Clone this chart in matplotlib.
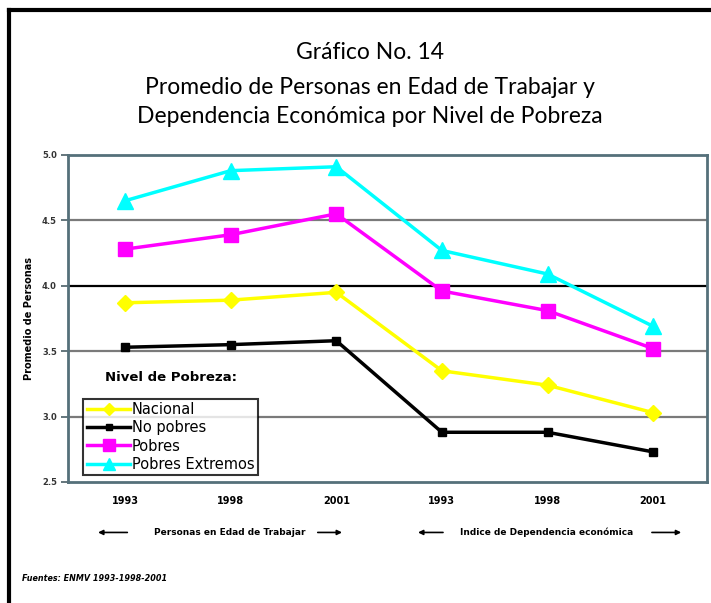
"""
Grafico No. 14: promedio de personas en edad de trabajar y dependencia
economica por nivel de pobreza (ENMV 1993-1998-2001).
"""
import matplotlib
matplotlib.use('Agg')
import matplotlib.pyplot as plt
from matplotlib.lines import Line2D
from matplotlib.patches import FancyArrowPatch

years = ['1993', '1998', '2001', '1993', '1998', '2001']
series_names = ['Nacional', 'No pobres', 'Pobres', 'Pobres Extremos']
nacional = [3.87, 3.89, 3.95, 3.35, 3.24, 3.03]
no_pobres = [3.53, 3.55, 3.58, 2.88, 2.88, 2.73]
pobres = [4.28, 4.39, 4.55, 3.96, 3.81, 3.52]
pobres_extremos = [4.65, 4.88, 4.91, 4.27, 4.09, 3.69]
yticks = [2.5, 3.0, 3.5, 4.0, 4.5, 5.0]

fig = plt.figure(figsize=(7.11, 6.03), dpi=100)
fig.patch.set_facecolor('white')

# black frame along top and left edges
fig.add_artist(Line2D([0.013, 0.013], [0.0, 0.984], transform=fig.transFigure,
                      color='black', lw=3))
fig.add_artist(Line2D([0.013, 1.0], [0.984, 0.984], transform=fig.transFigure,
                      color='black', lw=3))

title_font = 'Lato'
fig.text(0.52, 0.913, 'Gráfico No. 14', ha='center', va='center',
         fontsize=16.5, family=title_font)
fig.text(0.52, 0.855, 'Promedio de Personas en Edad de Trabajar y', ha='center',
         va='center', fontsize=16.5, family=title_font)
fig.text(0.52, 0.806, 'Dependencia Económica por Nivel de Pobreza', ha='center',
         va='center', fontsize=16.5, family=title_font)

ax = fig.add_axes([68 / 711, 0.2007, 639 / 711, 0.5423])
x = list(range(len(years)))

for yv in [3.0, 3.5, 4.5]:
    ax.axhline(yv, color='#7a7a7a', lw=1.6, zorder=1)
ax.axhline(4.0, color='black', lw=1.6, zorder=1)

ax.plot(x, nacional, color='#FFFF00', lw=2.5, marker='D', markersize=8,
        label=series_names[0], zorder=3)
ax.plot(x, no_pobres, color='black', lw=2.5, marker='s', markersize=6,
        label=series_names[1], zorder=3)
ax.plot(x, pobres, color='#FF00FF', lw=2.5, marker='s', markersize=10.5,
        label=series_names[2], zorder=3)
ax.plot(x, pobres_extremos, color='#00FFFF', lw=2.5, marker='^', markersize=11,
        label=series_names[3], zorder=3)

ax.set_xlim(-0.54, 5.51)
ax.set_ylim(2.5, 5.0)
ax.set_yticks(yticks)
ax.set_yticklabels(['%.1f' % v for v in yticks], fontsize=6, fontweight='bold',
                   color='#333333')
ax.set_xticks(x)
ax.set_xticklabels(years, fontsize=7, fontweight='bold')
ax.tick_params(axis='x', length=0, pad=10)
ax.tick_params(axis='y', length=5, width=1.2, color='#4a5f66', pad=3)
for sp in ax.spines.values():
    sp.set_color('#55707a')
    sp.set_linewidth(2)
ax.set_ylabel('Promedio de Personas', fontsize=7, fontweight='bold', labelpad=6)

leg = ax.legend(loc='lower left', bbox_to_anchor=(0.0235, 0.02), fontsize=10.5,
                frameon=True, fancybox=False, edgecolor='black',
                borderpad=0.25, labelspacing=0.22, handlelength=3.0,
                handletextpad=0.1, borderaxespad=0, markerscale=0.8)
leg.get_frame().set_linewidth(1.5)
ax.text(0.058, 0.321, 'Nivel de Pobreza:', transform=ax.transAxes, fontsize=9.5,
        fontweight='bold', ha='left', va='center')

# group captions below the year labels
row_y = 0.117
fig.text(230 / 711, row_y, 'Personas en Edad de Trabajar', ha='center',
         va='center', fontsize=6.5, fontweight='bold')
fig.text(547 / 711, row_y, 'Indice de Dependencia económica', ha='center',
         va='center', fontsize=6.5, fontweight='bold')
arrows = [(0.183, 0.134), (0.443, 0.485), (0.627, 0.584), (0.913, 0.962)]
for x0, x1 in arrows:
    fig.add_artist(FancyArrowPatch(
        (x0, row_y), (x1, row_y), transform=fig.transFigure,
        arrowstyle='-|>', mutation_scale=7, lw=1.2, color='black'))

fig.text(0.031, 0.041, 'Fuentes: ENMV 1993-1998-2001', fontsize=5.8,
         fontstyle='italic', fontweight='bold', ha='left', va='center')

fig.savefig('out.png', dpi=100)
